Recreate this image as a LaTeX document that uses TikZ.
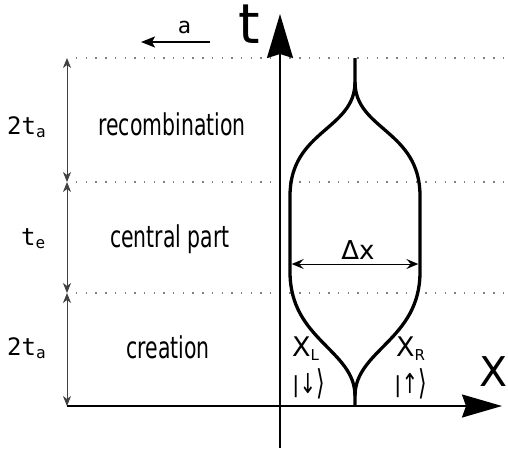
\documentclass[tikz,border=0pt]{standalone}
\usepackage{fontspec}
\usepackage{graphicx}
\setmainfont{DejaVu Sans}
\newfontfamily\condfont{DejaVu Sans}[FakeStretch=0.68]
\newfontfamily\monofont{DejaVu Sans Mono}
\usetikzlibrary{arrows.meta}
\newcommand{\tallket}[1]{|\raisebox{-1pt}{\scalebox{0.9}[1.25]{#1}}\raisebox{-2pt}{\scalebox{1}[1.55]{⟩}}}
\begin{document}
\begin{tikzpicture}[x=1pt,y=-1pt,
  dotline/.style={draw=gray, line width=1.4pt, dash pattern=on 1.4pt off 8.3pt},
  dimarrow/.style={draw=black!75, line width=0.9pt, {Stealth[length=10pt,width=8pt,inset=3pt]}-{Stealth[length=10pt,width=8pt,inset=3pt]}},
  axis/.style={draw=black, line width=2pt},
  curve/.style={draw=black, line width=3.3pt},
  phase/.style={font=\condfont\fontsize{30}{32}\selectfont, anchor=base, inner sep=0pt},
  dimlabel/.style={font=\monofont\fontsize{24}{26}\selectfont, anchor=base west, inner sep=0pt},
  lbl/.style={font=\fontsize{27}{29}\selectfont, anchor=base west, inner sep=0pt},
  ket/.style={font=\fontsize{22}{25}\selectfont, anchor=base west, inner sep=0pt}
]
\path[use as bounding box] (0,0) rectangle (508,451);

% dotted guide lines
\coordinate (d1l) at (76,58);  \coordinate (d1r) at (508,58);
\coordinate (d2l) at (76,182); \coordinate (d2r) at (508,182);
\coordinate (d3l) at (76,293); \coordinate (d3r) at (508,293);
\draw[dotline] (d1l) -- (d1r);
\draw[dotline] (d2l) -- (d2r);
\draw[dotline] (d3l) -- (d3r);

% dimension arrows
\coordinate (m1) at (67,58);
\coordinate (m2) at (67,182);
\coordinate (m3) at (67,293);
\coordinate (m4) at (67,406);
\draw[dimarrow] (m1) -- (m2);
\draw[dimarrow] (m2) -- (m3);
\draw[dimarrow] (m3) -- (m4);

\node[dimlabel] (ta1) at (7,134) {2t{\fontsize{16}{16}\selectfont\raisebox{-3pt}{a}}};
\node[dimlabel] (te) at (21,245) {t{\fontsize{16}{16}\selectfont\raisebox{-3pt}{e}}};
\node[dimlabel] (ta2) at (7,355) {2t{\fontsize{16}{16}\selectfont\raisebox{-3pt}{a}}};

% phase labels
\node[phase] (rec) at (172,135) {recombination};
\node[phase] (cen) at (170,247) {central part};
\node[phase] (cre) at (168,358) {creation};

% axes
\coordinate (xs) at (67,406);
\coordinate (xe) at (502,406);
\coordinate (ts) at (280,448);
\coordinate (te2) at (280,14);
\draw[axis, -{Stealth[length=40pt,width=23pt,inset=4pt]}] (xs) -- (xe);
\draw[axis, -{Stealth[length=44pt,width=26pt,inset=4pt]}] (ts) -- (te2);
\node[font=\fontsize{55}{60}\selectfont, anchor=base, inner sep=0pt] (tlab) at (249.5,43) {t};
\node[font=\fontsize{41}{44}\selectfont, anchor=base east, inner sep=0pt] (xlab) at (507.5,386) {X};

% a arrow
\node[font=\monofont\fontsize{22}{24}\selectfont, anchor=base, inner sep=0pt] (alab) at (184.5,33) {a};
\coordinate (a1) at (210,42);
\coordinate (a2) at (141,42);
\draw[line width=1.5pt, -{Stealth[length=14pt,width=11pt,inset=3pt]}] (a1) -- (a2);

% curve
\draw[curve] (355,406) -- (355,396) .. controls (355,350) and (290,340) .. (290,272) -- (290,196) .. controls (290,130) and (355,130) .. (355,82) -- (355,58);
\draw[curve] (355,396) .. controls (355,350) and (420,340) .. (420,272) -- (420,196) .. controls (420,130) and (355,130) .. (355,82);

% delta x
\coordinate (dxl) at (291.7,264);
\coordinate (dxr) at (418.3,264);
\draw[line width=1pt, {Stealth[length=12pt,width=10pt,inset=4.5pt]}-{Stealth[length=12pt,width=10pt,inset=4.5pt]}] (dxl) -- (dxr);
\node[font=\fontsize{26}{28}\selectfont, anchor=base, inner sep=0pt] (dx) at (358,259) {Δx};

% branch labels
\node[lbl] (xl) at (292,356) {X{\fontsize{15}{15}\selectfont\raisebox{-4pt}{L}}};
\node[lbl] (xr) at (396,356) {X{\fontsize{15}{15}\selectfont\raisebox{-4pt}{R}}};
\node[ket] (kl) at (292,392) {\tallket{↓}};
\node[ket] (kr) at (394,392) {\tallket{↑}};
\end{tikzpicture}
\end{document}
